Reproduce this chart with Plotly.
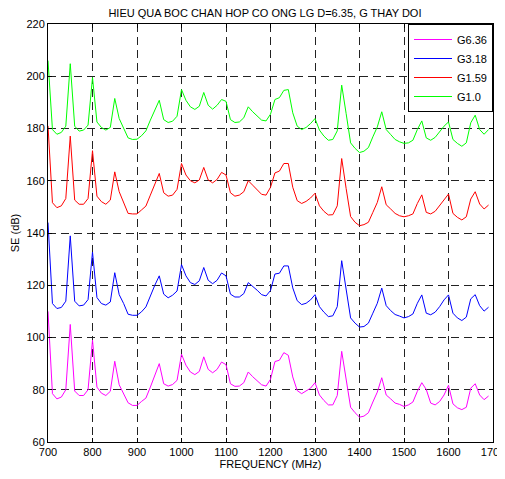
import plotly.graph_objects as go

freq = list(range(700, 1700, 10))

g636 = [110, 78.5, 76.5, 77.2, 80, 105, 79.5, 77.8, 77.8, 80,
        99, 81, 78.7, 77.8, 79.4, 90.9, 81.9, 78.5, 75, 74,
        74, 75.5, 76.8, 81, 85.5, 90, 82.3, 81.4, 82, 83.6,
        93.6, 89.4, 86.8, 85.8, 87, 92.6, 87.8, 86.5, 87.8, 90.6,
        89.6, 82.3, 81.3, 81.4, 82.7, 86.8, 85, 83.6, 81.9, 81.4,
        84, 90.8, 91.3, 94.2, 93.2, 84.9, 79.7, 78.5, 79.4, 80.6,
        82.7, 78, 75.9, 74.2, 74.2, 77.8, 94.7, 83.6, 73.3, 71.2,
        69.5, 69.9, 71.2, 75.3, 79.1, 84.6, 78, 76.5, 74.9, 74.4,
        73.6, 74.2, 75.3, 79.4, 82.7, 80.1, 74.9, 74.2, 75.5, 78,
        81.7, 74.6, 73.1, 72.4, 73.3, 80.6, 82.3, 78, 76.2, 77.6]

g318 = [144, 113, 111.1, 111.5, 113.9, 138.9, 113.9, 112.1, 112.4, 114.5,
        132.7, 115.3, 113, 112.4, 113.6, 124.8, 116.4, 113, 108.9, 108.5,
        108.5, 109.8, 111.7, 116.2, 120, 123.6, 116.6, 115.2, 116.2, 117.8,
        127.9, 123.6, 121, 120.3, 121.7, 126.8, 121.9, 120.6, 121.9, 124.7,
        123.6, 116.6, 115.5, 115.5, 116.8, 121, 119.6, 118.1, 116.4, 115.9,
        118, 124.3, 124.6, 127.4, 127.4, 119, 114.1, 112.6, 113.1, 114.4,
        116.4, 111.8, 109.7, 108, 108.3, 111.8, 129.4, 118, 107.5, 105.5,
        104, 104.2, 105.5, 109.3, 113.1, 118.9, 112.2, 110.3, 108.8, 108.2,
        107.5, 108, 109, 113.1, 116.3, 109.3, 108.7, 109.7, 111.8, 114.4,
        116.3, 109.3, 107.5, 106.5, 107.8, 114.8, 116.4, 112.2, 110.1, 111.6]

g159 = [181, 151.6, 149.7, 150.4, 153.2, 177.1, 152.6, 151, 151, 153.2,
        171.5, 154.1, 152, 151, 152.6, 163.4, 155.8, 152, 147.5, 147.3,
        147.3, 148.8, 150.3, 154.5, 159, 162.8, 155.4, 154.1, 154.5, 156.7,
        166.6, 162.2, 160, 159.2, 160.3, 165.1, 160.3, 159.2, 160.5, 163.2,
        162.2, 155.4, 154.1, 154.5, 155.8, 160, 158.3, 156.7, 154.8, 154.5,
        157.5, 163, 163.7, 166.6, 166.6, 157.5, 152.4, 151.3, 152.1, 153.4,
        155.2, 150.4, 148.3, 146.9, 147, 150.4, 168.5, 157, 146.3, 144.1,
        142.8, 143.2, 144.1, 147.9, 151.7, 157.7, 150.8, 149.2, 147.5, 146.6,
        146.2, 146.6, 147.3, 151.3, 154.6, 147.9, 147.3, 148.3, 150.4, 152.4,
        154.9, 147.5, 146, 145, 146.2, 153, 155.8, 151.1, 149.2, 150.7]

g10 = [206, 179.6, 177.8, 178.5, 180.9, 204.8, 180.9, 179, 179.4, 181.3,
       199.5, 182.5, 180.4, 179.4, 180.4, 191.5, 183.8, 180.4, 176.4, 175.8,
       175.9, 177.2, 179.1, 183.2, 187, 190.8, 183.4, 182.3, 182.8, 184.7,
       194.9, 190.8, 188.3, 187.3, 188.5, 193.8, 188.9, 187.4, 188.9, 191.1,
       190.4, 183.4, 182.3, 182.5, 184.1, 188.3, 186.4, 184.7, 183.2, 182.9,
       185.5, 191.1, 191.8, 194.6, 194.9, 186, 180.9, 179.6, 180.4, 181.9,
       183.8, 179.4, 177.1, 175.5, 175.8, 179.1, 196.6, 185.7, 174.5, 172.4,
       170.8, 171.3, 172.7, 176.8, 180.6, 186.4, 179.6, 177.7, 175.8, 174.9,
       174.3, 174.5, 175.5, 179.6, 182.9, 176.4, 175.5, 176.6, 178.7, 180.9,
       182.5, 175.8, 174.3, 173.2, 174.5, 182.2, 185.1, 179.6, 177.8, 179.6]

names = ["G6.36", "G3.18", "G1.59", "G1.0"]
colors = ["#FF00FF", "#0000FF", "#FF0000", "#00FF00"]
series = [g636, g318, g159, g10]

x_ticks = list(range(700, 1800, 100))
y_ticks = list(range(60, 240, 20))

fig = go.Figure()
for name, col, ys in zip(names, colors, series):
    fig.add_trace(go.Scatter(x=freq, y=ys, mode="lines", name=name,
                             line=dict(color=col, width=1)))

font_family = "Arial, Liberation Sans, sans-serif"
axis_common = dict(
    showline=True, linecolor="black", linewidth=1, mirror="ticks",
    ticks="inside", ticklen=4, tickcolor="black",
    showgrid=True, gridcolor="#222222", gridwidth=1, griddash="8px,5px",
    zeroline=False, ticklabeloverflow="allow", automargin=False,
    tickfont=dict(size=11, color="black", family=font_family),
)

fig.update_layout(
    width=497, height=471,
    paper_bgcolor="white", plot_bgcolor="white",
    margin=dict(l=40, r=12, t=16, b=37),
    title=dict(text="HIEU QUA BOC CHAN HOP CO ONG LG D=6.35, G THAY DOI",
               x=0.517, xanchor="center", y=0.99, yanchor="middle",
               font=dict(size=11, color="black", family=font_family)),
    xaxis=dict(range=[700, 1700], tickvals=x_ticks,
               title=dict(text="FREQUENCY (MHz)", standoff=3,
                          font=dict(size=11, color="black", family=font_family)),
               **axis_common),
    yaxis=dict(range=[60, 220], tickvals=y_ticks,
               title=dict(text="SE (dB)", standoff=4,
                          font=dict(size=11, color="black", family=font_family)),
               **axis_common),
    legend=dict(x=1, y=1, xanchor="right", yanchor="top",
                bgcolor="white", bordercolor="black", borderwidth=1,
                itemwidth=38,
                font=dict(size=11, color="black", family=font_family),
                tracegroupgap=0),
    showlegend=True,
)

fig.write_html("out.html")
